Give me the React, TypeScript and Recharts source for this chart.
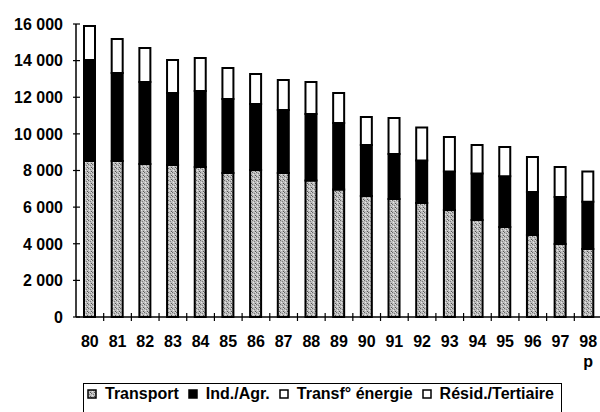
import React from "react";
import { BarChart, Bar, XAxis, YAxis } from "recharts";

// Emissions by sector, 1980 to 1998 (98 = provisional)
const years = ["80", "81", "82", "83", "84", "85", "86", "87", "88", "89", "90", "91", "92", "93", "94", "95", "96", "97", "98"];
const transport = [8520, 8520, 8360, 8300, 8190, 7860, 8030, 7860, 7450, 6960, 6610, 6450, 6230, 5840, 5300, 4920, 4480, 3990, 3710];
const indAgr = [5520, 4810, 4470, 3930, 4150, 4040, 3600, 3440, 3640, 3640, 2780, 2450, 2310, 2110, 2530, 2760, 2350, 2560, 2580];
const transfEnergie = [0, 0, 0, 0, 0, 0, 0, 0, 0, 0, 0, 0, 0, 0, 0, 0, 0, 0, 0];
const residTertiaire = [1850, 1850, 1860, 1810, 1810, 1700, 1640, 1640, 1740, 1630, 1530, 1970, 1810, 1880, 1560, 1600, 1910, 1640, 1660];
const yTicks = [0, 2000, 4000, 6000, 8000, 10000, 12000, 14000, 16000];
const provisionalYear = "98";

const seriesNames = ["Transport", "Ind./Agr.", "Transf° énergie", "Résid./Tertiaire"];

const data = years.map((y, i) => ({
  year: y,
  transport: transport[i],
  indAgr: indAgr[i],
  transfEnergie: transfEnergie[i],
  residTertiaire: residTertiaire[i],
}));

const CHART_W = 610;
const CHART_H = 412;
const MARGIN = { top: 24, right: 8, left: 0, bottom: 65 };
const Y_AXIS_W = 76;
const X_AXIS_H = 30;
const AXIS_X = MARGIN.left + Y_AXIS_W;
const PLOT_BOTTOM = CHART_H - MARGIN.bottom - X_AXIS_H;
const BAND = (CHART_W - MARGIN.right - AXIS_X) / years.length;
const FONT = "'Liberation Sans', Arial, sans-serif";

const fmt = (v: number) => (v >= 1000 ? `${Math.floor(v / 1000)} ${String(v % 1000).padStart(3, "0")}` : String(v));

const YTick = (props: any) => {
  const { y, payload } = props;
  return (
    <g>
      <line x1={AXIS_X - 3} x2={AXIS_X + 4} y1={y} y2={y} stroke="#000" strokeWidth={1.2} />
      <text x={AXIS_X - 13} y={y} dy="0.36em" textAnchor="end" fontSize={16} fontWeight="bold" fontFamily={FONT} fill="#000">
        {fmt(payload.value)}
      </text>
    </g>
  );
};

const XTick = (props: any) => {
  const { x, payload } = props;
  const bx = x + BAND / 2;
  return (
    <g>
      <line x1={bx} x2={bx} y1={PLOT_BOTTOM - 4} y2={PLOT_BOTTOM + 4} stroke="#000" strokeWidth={1.2} />
      <text x={x} y={PLOT_BOTTOM + 30} textAnchor="middle" fontSize={16} fontWeight="bold" fontFamily={FONT} fill="#000">
        {payload.value}
      </text>
      {payload.value === provisionalYear && (
        <text x={x} y={PLOT_BOTTOM + 50} textAnchor="middle" fontSize={16} fontWeight="bold" fontFamily={FONT} fill="#000">
          p
        </text>
      )}
    </g>
  );
};

const SpeckleDefs = ({ id }: { id: string }) => (
  <defs>
    <pattern id={id} width="4" height="4" patternUnits="userSpaceOnUse">
      <rect width="4" height="4" fill="#bdbdbd" />
      <rect x="0" y="0" width="1" height="1" fill="#666" />
      <rect x="2" y="1" width="1" height="1" fill="#7e7e7e" />
      <rect x="1" y="2" width="1" height="1" fill="#e8e8e8" />
      <rect x="3" y="3" width="1" height="1" fill="#555" />
      <rect x="3" y="0" width="1" height="1" fill="#dedede" />
    </pattern>
  </defs>
);

const legendFills = ["url(#speckleLegend)", "#000", "#fff", "#fff"];

export default function App() {
  return (
    <div style={{ position: "absolute", left: 0, top: 0, width: 600, height: 412, overflow: "hidden", background: "#fff" }}>
      <BarChart width={CHART_W} height={CHART_H} data={data} margin={MARGIN} barSize={11}>
        <SpeckleDefs id="speckle" />
        <YAxis
          width={Y_AXIS_W}
          domain={[0, 16000]}
          ticks={yTicks}
          interval={0}
          tick={<YTick />}
          tickLine={false}
          axisLine={{ stroke: "#000", strokeWidth: 1.5 }}
        />
        <XAxis
          dataKey="year"
          height={X_AXIS_H}
          interval={0}
          tick={<XTick />}
          tickLine={false}
          axisLine={{ stroke: "#000", strokeWidth: 1.5 }}
        />
        <Bar dataKey="transport" stackId="s" fill="url(#speckle)" stroke="#000" strokeWidth={2} isAnimationActive={false} />
        <Bar dataKey="indAgr" stackId="s" fill="#000" stroke="#000" strokeWidth={2} isAnimationActive={false} />
        <Bar dataKey="transfEnergie" stackId="s" fill="#fff" stroke="#000" strokeWidth={2} isAnimationActive={false} />
        <Bar dataKey="residTertiaire" stackId="s" fill="#fff" stroke="#000" strokeWidth={2} isAnimationActive={false} />
      </BarChart>
      <div
        style={{
          position: "absolute",
          left: 83,
          top: 383,
          width: 479,
          height: 31,
          border: "1.5px solid #000",
          display: "flex",
          alignItems: "flex-start",
          paddingLeft: 3,
          paddingTop: 2,
          boxSizing: "border-box",
          fontFamily: FONT,
          fontSize: 16,
          fontWeight: "bold",
          lineHeight: "16px",
          color: "#000",
          whiteSpace: "nowrap",
        }}
      >
        {seriesNames.map((name, i) => (
          <span key={name} style={{ display: "inline-flex", alignItems: "center", marginRight: 9 }}>
            <svg width={10} height={10} style={{ marginRight: 8 }}>
              {i === 0 && <SpeckleDefs id="speckleLegend" />}
              <rect x={1} y={1} width={8} height={8} fill={legendFills[i]} stroke="#000" strokeWidth={1.5} />
            </svg>
            {name}
          </span>
        ))}
      </div>
    </div>
  );
}
